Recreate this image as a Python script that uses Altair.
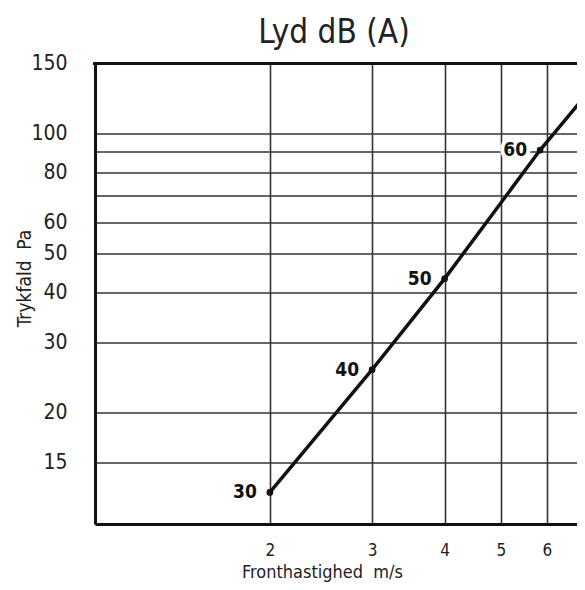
import altair as alt
import pandas as pd

FONT = "Liberation Sans Narrow, Arial Narrow, DejaVu Sans Condensed, sans-serif"

# marked operating points (Fronthastighed m/s, Trykfald Pa, Lyd dB(A))
speed = [2, 3, 4, 5.84]
pressure = [12.6, 25.6, 43.3, 91]
sound_db = ["30", "40", "50", "60"]

# line through the points, running on to the right edge
line_speed = [2, 3, 4, 5.84, 7]
line_pressure = [12.6, 25.6, 43.3, 91, 125]

x_ticks = [2, 3, 4, 5, 6, 7]
y_ticks = [15, 20, 30, 40, 50, 60, 70, 80, 90, 100, 150]

pts = pd.DataFrame({"v": speed, "p": pressure, "db": sound_db})
ln = pd.DataFrame({"v": line_speed, "p": line_pressure})

W, H = 482, 460.5

xs = alt.Scale(type="log", domain=[1, 6.76], nice=False, zero=False)
ys = alt.Scale(type="log", domain=[10.5, 150], nice=False, zero=False)

x_axis = alt.Axis(
    values=x_ticks, ticks=False, labelPadding=18, labelFontSize=17,
    labelFont=FONT, labelColor="#222", grid=True, gridColor="#333",
    gridWidth=1.6, domainColor="#111", domainWidth=3,
    title="Fronthastighed\u00a0 m/s", titleFont=FONT, titleFontSize=18,
    titleFontWeight="normal", titleColor="#222", titleX=227, titleY=53,
    titleBaseline="alphabetic", titleAlign="center", labelFlush=False,
)
y_axis = alt.Axis(
    values=y_ticks, ticks=False, labelPadding=28, labelFontSize=21,
    labelFont=FONT, labelColor="#222", grid=True, gridColor="#333",
    gridWidth=1.6, domainColor="#111", domainWidth=3,
    labelExpr="datum.value == 70 || datum.value == 90 ? '' : datum.label",
    title="Trykfald\u00a0 Pa", titleFont=FONT, titleFontSize=19,
    titleFontWeight="normal", titleColor="#222", titleX=-71, titleY=214.5,
    titleAngle=270, titleBaseline="middle", titleAlign="center",
    labelFlush=False,
)

base_line = alt.Chart(ln).mark_line(color="#111", strokeWidth=3.5, clip=True).encode(
    x=alt.X("v:Q", scale=xs, axis=x_axis),
    y=alt.Y("p:Q", scale=ys, axis=y_axis),
)

top_border = alt.Chart(pts).mark_rule(color="#111", strokeWidth=3).encode(
    x=alt.value(-1.5), x2=alt.value(W), y=alt.value(0)
)

dots = alt.Chart(pts).mark_circle(color="#111", size=45, opacity=1).encode(
    x=alt.X("v:Q", scale=xs), y=alt.Y("p:Q", scale=ys)
)

halo = alt.Chart(pts).mark_text(
    align="right", baseline="middle", dx=-13, font=FONT, fontSize=19,
    fontWeight="bold", stroke="white", strokeWidth=8, color="white",
).encode(x=alt.X("v:Q", scale=xs), y=alt.Y("p:Q", scale=ys), text="db:N")

labels = alt.Chart(pts).mark_text(
    align="right", baseline="middle", dx=-13, font=FONT, fontSize=19,
    fontWeight="bold", color="#111",
).encode(x=alt.X("v:Q", scale=xs), y=alt.Y("p:Q", scale=ys), text="db:N")

chart = alt.layer(base_line, halo, labels, dots, top_border).properties(
    width=W, height=H,
    autosize=alt.AutoSizeParams(type="none"),
    padding={"left": 87, "top": 55.5, "right": 0, "bottom": 58},
    title=alt.TitleParams(
        "Lyd dB (A)", font=FONT, fontSize=33, fontWeight="normal",
        color="#222", anchor="middle", offset=3, dx=-2,
    ),
).configure_view(strokeWidth=0).configure(background="white")

chart.save("out.html", embed_options={"renderer": "svg", "actions": False})
